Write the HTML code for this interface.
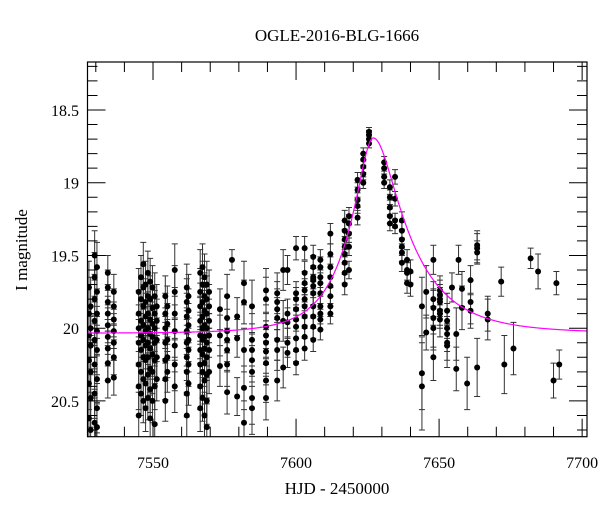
<!DOCTYPE html>
<html><head><meta charset="utf-8"><style>
html,body{margin:0;padding:0;background:#fff;}
svg{display:block;font-family:"Liberation Serif",serif;}
</style></head><body>
<svg id="chart" width="600" height="512" viewBox="0 0 600 512" xmlns="http://www.w3.org/2000/svg">
<defs><clipPath id="plotclip"><rect x="87.5" y="62" width="499.5" height="374.7"/></clipPath></defs>
<text x="337" y="41" font-size="17" text-anchor="middle">OGLE-2016-BLG-1666</text>
<text x="337" y="494" font-size="17" text-anchor="middle">HJD - 2450000</text>
<text x="27" y="250" font-size="17" text-anchor="middle" transform="rotate(-90 27 250)">I magnitude</text>
<g id="errs" clip-path="url(#plotclip)"></g>
<g id="pts" clip-path="url(#plotclip)"></g>
<path id="model" clip-path="url(#plotclip)" fill="none" stroke="#ff00ff" stroke-width="1.2"/>
<g id="axes"></g>
<rect x="87.5" y="62" width="499.5" height="374.7" fill="none" stroke="#000" stroke-width="1.2"/>
</svg>
<script>
// HJD-2450000 of each observation
const hjd = [
7527.6,7527.6,7527.6,7527.6,7527.6,7527.6,
7528.2,7528.2,7528.2,7528.2,7528.2,7528.2,
7529.6,7529.6,7529.6,7529.6,7529.6,7529.6,7529.6,7529.6,
7530.4,7530.4,7530.4,7530.4,7530.4,7530.4,7530.4,7530.4,
7534.2,7534.2,7534.2,7534.2,7534.2,7534.2,7534.2,7534.2,7534.2,
7536.3,7536.3,7536.3,7536.3,7536.3,7536.3,7536.3,
7545.0,7545.0,7545.0,7545.0,7545.0,7545.0,7545.0,
7545.8,7545.8,7545.8,7545.8,7545.8,7545.8,7545.8,
7546.6,7546.6,7546.6,7546.6,7546.6,7546.6,7546.6,7546.6,
7547.4,7547.4,7547.4,7547.4,7547.4,7547.4,7547.4,7547.4,
7548.2,7548.2,7548.2,7548.2,7548.2,7548.2,7548.2,7548.2,
7549.0,7549.0,7549.0,7549.0,7549.0,7549.0,7549.0,7549.0,
7549.8,7549.8,7549.8,7549.8,7549.8,7549.8,7549.8,
7550.6,7550.6,7550.6,7550.6,7550.6,7550.6,7550.6,
7551.3,7551.3,7551.3,7551.3,7551.3,
7554.3,7554.3,7554.3,7554.3,7554.3,7554.3,7554.3,
7555.0,7555.0,7555.0,7555.0,7555.0,
7557.6,7557.6,7557.6,7557.6,7557.6,7557.6,7557.6,
7561.8,7561.8,7561.8,7561.8,7561.8,7561.8,7561.8,7561.8,7561.8,
7562.4,7562.4,7562.4,7562.4,7562.4,7562.4,7562.4,
7566.5,7566.5,7566.5,7566.5,7566.5,7566.5,7566.5,7566.5,7566.5,
7567.3,7567.3,7567.3,7567.3,7567.3,7567.3,7567.3,7567.3,7567.3,
7568.0,7568.0,7568.0,7568.0,7568.0,7568.0,7568.0,7568.0,7568.0,
7568.8,7568.8,7568.8,7568.8,7568.8,7568.8,7568.8,7568.8,7568.8,
7569.6,7569.6,7569.6,7569.6,7569.6,7569.6,
7573.4,7573.4,7573.4,
7575.9,7575.9,7575.9,7575.9,7575.9,7575.9,7575.9,
7577.6,
7579.4,7579.4,7579.4,
7581.8,7581.8,7581.8,7581.8,7581.8,
7584.6,7584.6,7584.6,7584.6,7584.6,7584.6,7584.6,
7589.5,7589.5,7589.5,7589.5,7589.5,7589.5,7589.5,7589.5,7589.5,
7593.4,7593.4,7593.4,7593.4,7593.4,7593.4,7593.4,
7595.5,7595.5,7595.5,
7597.0,7597.0,7597.0,7597.0,7597.0,
7600.0,7600.0,7600.0,7600.0,7600.0,7600.0,7600.0,7600.0,7600.0,
7603.0,7603.0,7603.0,7603.0,7603.0,7603.0,7603.0,7603.0,7603.0,7603.0,
7606.0,7606.0,7606.0,7606.0,7606.0,7606.0,7606.0,7606.0,7606.0,7606.0,
7608.5,7608.5,7608.5,7608.5,7608.5,7608.5,7608.5,7608.5,7608.5,
7612.0,7612.0,7612.0,7612.0,7612.0,7612.0,7612.0,7612.0,
7617.0,7617.0,7617.0,7617.0,7617.0,7617.0,7617.0,7617.0,
7618.5,7618.5,7618.5,7618.5,7618.5,
7621.5,7621.5,7621.5,7621.5,7621.5,
7623.5,7623.5,7623.5,7623.5,7623.5,
7625.5,7625.5,7625.5,7625.5,
7630.8,7630.8,7630.8,7630.8,
7632.8,7632.8,7632.8,7632.8,7632.8,
7634.6,7634.6,7634.6,7634.6,
7637.0,7637.0,7637.0,7637.0,7637.0,7637.0,
7638.8,7638.8,7638.8,7638.8,
7640.0,7640.0,
7644.0,7644.0,7644.0,
7645.5,7645.5,
7648.0,7648.0,7648.0,7648.0,7648.0,7648.0,
7650.3,7650.3,7650.3,7650.3,7650.3,7650.3,7650.3,
7652.8,7652.8,7652.8,7652.8,7652.8,7652.8,
7654.5,7656.0,7656.0,7656.8,7658.0,7658.0,7659.8,
7661.0,7661.0,7661.0,
7663.3,7663.3,7663.3,7663.3,
7667.0,7667.0,7671.7,7672.8,7676.0,7682.0,7684.6,7690.0,7691.0,7692.0
];
// I magnitude of each observation
const mag = [
19.72,19.9,20.05,20.22,20.38,20.62,
19.85,20.0,20.12,20.3,20.48,20.7,
19.5,19.65,19.8,19.95,20.08,20.25,20.45,20.65,
19.58,19.75,19.9,20.02,20.15,20.35,20.55,20.68,
19.62,19.72,19.82,19.9,19.98,20.06,20.14,20.24,20.36,
19.75,19.85,19.94,20.02,20.1,20.2,20.34,
19.75,19.9,20.0,20.1,20.25,20.4,20.6,
19.65,19.8,19.95,20.05,20.15,20.3,20.45,
19.56,19.72,19.85,19.98,20.08,20.2,20.35,20.5,
19.7,19.82,19.92,20.02,20.12,20.22,20.38,20.55,
19.62,19.78,19.9,20.0,20.1,20.2,20.32,20.48,
19.68,19.8,19.94,20.04,20.14,20.28,20.42,20.62,
19.72,19.86,19.97,20.06,20.18,20.3,20.5,
19.78,19.9,20.0,20.1,20.22,20.4,20.66,
19.85,19.95,20.08,20.2,20.35,
19.78,19.9,20.0,20.1,20.22,20.35,20.5,
19.85,19.97,20.08,20.2,20.3,
19.6,19.75,19.9,20.02,20.12,20.25,20.4,
19.72,19.82,19.92,20.02,20.1,20.2,20.3,20.45,20.6,
19.78,19.88,19.98,20.08,20.15,20.25,20.38,
19.62,19.75,19.85,19.95,20.05,20.15,20.25,20.4,20.55,
19.58,19.7,19.82,19.92,20.0,20.08,20.18,20.3,20.48,
19.65,19.78,19.88,19.98,20.06,20.14,20.24,20.36,20.6,
19.7,19.8,19.9,20.0,20.1,20.2,20.32,20.5,20.68,
19.75,19.85,19.95,20.05,20.15,20.3,
19.87,20.05,20.26,
19.78,19.93,20.02,20.08,20.15,20.25,20.44,
19.53,
19.92,20.07,20.47,
19.69,19.82,20.15,20.41,20.65,
19.85,20.08,20.15,20.22,20.3,20.48,20.55,
19.74,19.8,19.99,20.05,20.1,20.16,20.24,20.36,20.48,
19.76,19.82,19.87,19.93,20.08,20.15,20.36,
19.6,19.95,20.27,
19.6,19.9,19.96,20.1,20.17,
19.45,19.76,19.8,19.87,19.94,19.99,20.07,20.15,20.24,
19.45,19.62,19.69,19.74,19.8,19.85,19.92,19.99,20.06,20.14,
19.51,19.58,19.65,19.67,19.71,19.76,19.85,19.92,19.99,20.08,
19.53,19.58,19.65,19.69,19.76,19.85,19.9,19.94,20.01,
19.35,19.49,19.58,19.65,19.71,19.78,19.85,19.9,
19.26,19.33,19.39,19.44,19.49,19.55,19.62,19.7,
19.23,19.28,19.35,19.44,19.6,
18.98,19.05,19.12,19.16,19.24,
18.8,18.84,18.89,18.94,19.0,
18.65,18.67,18.7,18.73,
18.86,18.9,18.96,19.0,
19.03,19.1,19.17,19.23,19.28,
18.96,19.11,19.26,19.3,
19.26,19.33,19.39,19.44,19.48,19.55,
19.53,19.6,19.62,19.69,
19.61,19.7,
19.85,20.31,20.4,
19.75,20.03,
19.53,19.8,19.86,19.93,20.0,20.2,
19.74,19.77,19.8,19.82,19.88,19.9,19.94,
19.88,19.95,20.0,20.04,20.1,20.12,
19.72,20.04,20.28,19.53,19.73,19.86,20.38,
19.67,19.82,19.88,
19.45,19.43,19.48,20.27,
19.9,19.94,19.68,20.25,20.14,19.52,19.61,20.36,19.69,20.25
];
// 1-sigma magnitude uncertainty of each observation
const err = [
0.18,0.18,0.18,0.18,0.18,0.18,
0.2,0.2,0.2,0.2,0.2,0.2,
0.17,0.17,0.17,0.17,0.17,0.17,0.17,0.17,
0.17,0.17,0.17,0.17,0.17,0.17,0.17,0.17,
0.12,0.12,0.12,0.12,0.12,0.12,0.12,0.12,0.12,
0.12,0.12,0.12,0.12,0.12,0.12,0.12,
0.16,0.16,0.16,0.16,0.16,0.16,0.16,
0.15,0.15,0.15,0.15,0.15,0.15,0.15,
0.15,0.15,0.15,0.15,0.15,0.15,0.15,0.15,
0.16,0.16,0.16,0.16,0.16,0.16,0.16,0.16,
0.15,0.15,0.15,0.15,0.15,0.15,0.15,0.15,
0.16,0.16,0.16,0.16,0.16,0.16,0.16,0.16,
0.15,0.15,0.15,0.15,0.15,0.15,0.15,
0.16,0.16,0.16,0.16,0.16,0.16,0.16,
0.15,0.15,0.15,0.15,0.15,
0.14,0.14,0.14,0.14,0.14,0.14,0.14,
0.14,0.14,0.14,0.14,0.14,
0.18,0.18,0.18,0.18,0.18,0.18,0.18,
0.16,0.16,0.16,0.16,0.16,0.16,0.16,0.16,0.16,
0.15,0.15,0.15,0.15,0.15,0.15,0.15,
0.16,0.16,0.16,0.16,0.16,0.16,0.16,0.16,0.16,
0.16,0.16,0.16,0.16,0.16,0.16,0.16,0.16,0.16,
0.16,0.16,0.16,0.16,0.16,0.16,0.16,0.16,0.16,
0.16,0.16,0.16,0.16,0.16,0.16,0.16,0.16,0.16,
0.15,0.15,0.15,0.15,0.15,0.15,
0.14,0.14,0.14,
0.15,0.15,0.15,0.15,0.15,0.15,0.15,
0.07,
0.13,0.13,0.13,
0.15,0.15,0.15,0.15,0.15,
0.18,0.18,0.18,0.18,0.18,0.18,0.18,
0.15,0.15,0.15,0.15,0.15,0.15,0.15,0.15,0.15,
0.14,0.14,0.14,0.14,0.14,0.14,0.14,
0.14,0.14,0.14,
0.1,0.1,0.1,0.1,0.1,
0.08,0.08,0.08,0.08,0.08,0.08,0.08,0.08,0.08,
0.08,0.08,0.08,0.08,0.08,0.08,0.08,0.08,0.08,0.08,
0.08,0.08,0.08,0.08,0.08,0.08,0.08,0.08,0.08,0.08,
0.07,0.07,0.07,0.07,0.07,0.07,0.07,0.07,0.07,
0.07,0.07,0.07,0.07,0.07,0.07,0.07,0.07,
0.07,0.07,0.07,0.07,0.07,0.07,0.07,0.07,
0.06,0.06,0.06,0.06,0.06,
0.05,0.05,0.05,0.05,0.05,
0.04,0.04,0.04,0.04,0.04,
0.03,0.03,0.03,0.03,
0.04,0.04,0.04,0.04,
0.05,0.05,0.05,0.05,0.05,
0.05,0.05,0.05,0.05,
0.06,0.06,0.06,0.06,0.06,0.06,
0.07,0.07,0.07,0.07,
0.08,0.08,
0.2,0.25,0.3,
0.18,0.12,
0.1,0.12,0.12,0.2,0.15,0.16,
0.1,0.1,0.1,0.1,0.1,0.1,0.12,
0.12,0.12,0.12,0.12,0.12,0.15,
0.1,0.18,0.15,0.1,0.12,0.15,0.18,
0.1,0.15,0.12,
0.1,0.1,0.08,0.2,
0.12,0.14,0.1,0.2,0.18,0.07,0.12,0.12,0.08,0.1
];
// x-axis tick labels and y-axis tick labels
const xTickLabels = [7550, 7600, 7650, 7700];
const yTickLabels = [18.5, 19, 19.5, 20, 20.5];

// axis scales
const X0 = 87.5, X1 = 587, T0 = 7527.1, T1 = 7701.7;
const Y0 = 62, Y1 = 436.7, M0 = 18.17, M1 = 20.746;
function xs(t){ return X0 + (t - T0) / (T1 - T0) * (X1 - X0); }
function ys(m){ return Y0 + (m - M0) / (M1 - M0) * (Y1 - Y0); }

// microlensing (Paczynski) model parameters
const modelT0 = 7627, modelU0 = 0.3, modelTEleft = 17, modelTEright = 24, modelBase = 20.035;
function modelMag(t){
  const tE = t < modelT0 ? modelTEleft : modelTEright;
  const tau = (t - modelT0) / tE;
  const u = Math.sqrt(modelU0*modelU0 + tau*tau);
  const A = (u*u + 2) / (u * Math.sqrt(u*u + 4));
  return modelBase - 2.5 * Math.log10(A);
}

const NS = 'http://www.w3.org/2000/svg';
function mk(tag, attrs){ const e = document.createElementNS(NS, tag); for (const k in attrs) e.setAttribute(k, attrs[k]); return e; }

const gErr = document.getElementById('errs');
const gPts = document.getElementById('pts');
const n = Math.min(hjd.length, mag.length, err.length);
for (let i = 0; i < n; i++) {
  const x = xs(hjd[i]), y = ys(mag[i]);
  const yTop = ys(mag[i] - err[i]), yBot = ys(mag[i] + err[i]);
  const bar = mk('path', {d: `M${x},${yTop}V${yBot}M${x-3},${yTop}H${x+3}M${x-3},${yBot}H${x+3}`, stroke: '#333', 'stroke-width': 1, fill: 'none'});
  
  
  gErr.appendChild(bar);
  const c = mk('circle', {cx: x, cy: y, r: 3, fill: '#000'});
  
  
  gPts.appendChild(c);
}

// model curve
let d = '';
for (let t = T0; t <= T1; t += 0.25) {
  d += (d ? 'L' : 'M') + xs(t).toFixed(2) + ',' + ys(modelMag(t)).toFixed(2);
}
document.getElementById('model').setAttribute('d', d);

// axes ticks and labels
const gAx = document.getElementById('axes');
let td = '';
for (let t = 7530; t <= 7700; t += 10) {
  const x = xs(t), major = (t % 50 === 0), L = major ? 18 : 10;
  td += `M${x},${Y1}V${Y1-L}M${x},${Y0}V${Y0+L}`;
}
for (let k = 182; k <= 207; k++) {
  const m = k / 10, y = ys(m), major = (k % 5 === 0), L = major ? 18 : 10;
  td += `M${X0},${y}H${X0+L}M${X1},${y}H${X1-L}`;
}
const ticks = mk('path', {d: td, stroke: '#000', 'stroke-width': 1, fill: 'none'});


gAx.appendChild(ticks);
xTickLabels.forEach(v => {
  const tx = mk('text', {x: xs(v), y: 468, 'font-size': 16, 'text-anchor': 'middle'});
  tx.textContent = String(v);
  
  
  gAx.appendChild(tx);
});
yTickLabels.forEach(v => {
  const tx = mk('text', {x: 79, y: ys(v) + 6, 'font-size': 16, 'text-anchor': 'end'});
  tx.textContent = String(v);
  
  
  gAx.appendChild(tx);
});
</script>
</body></html>
